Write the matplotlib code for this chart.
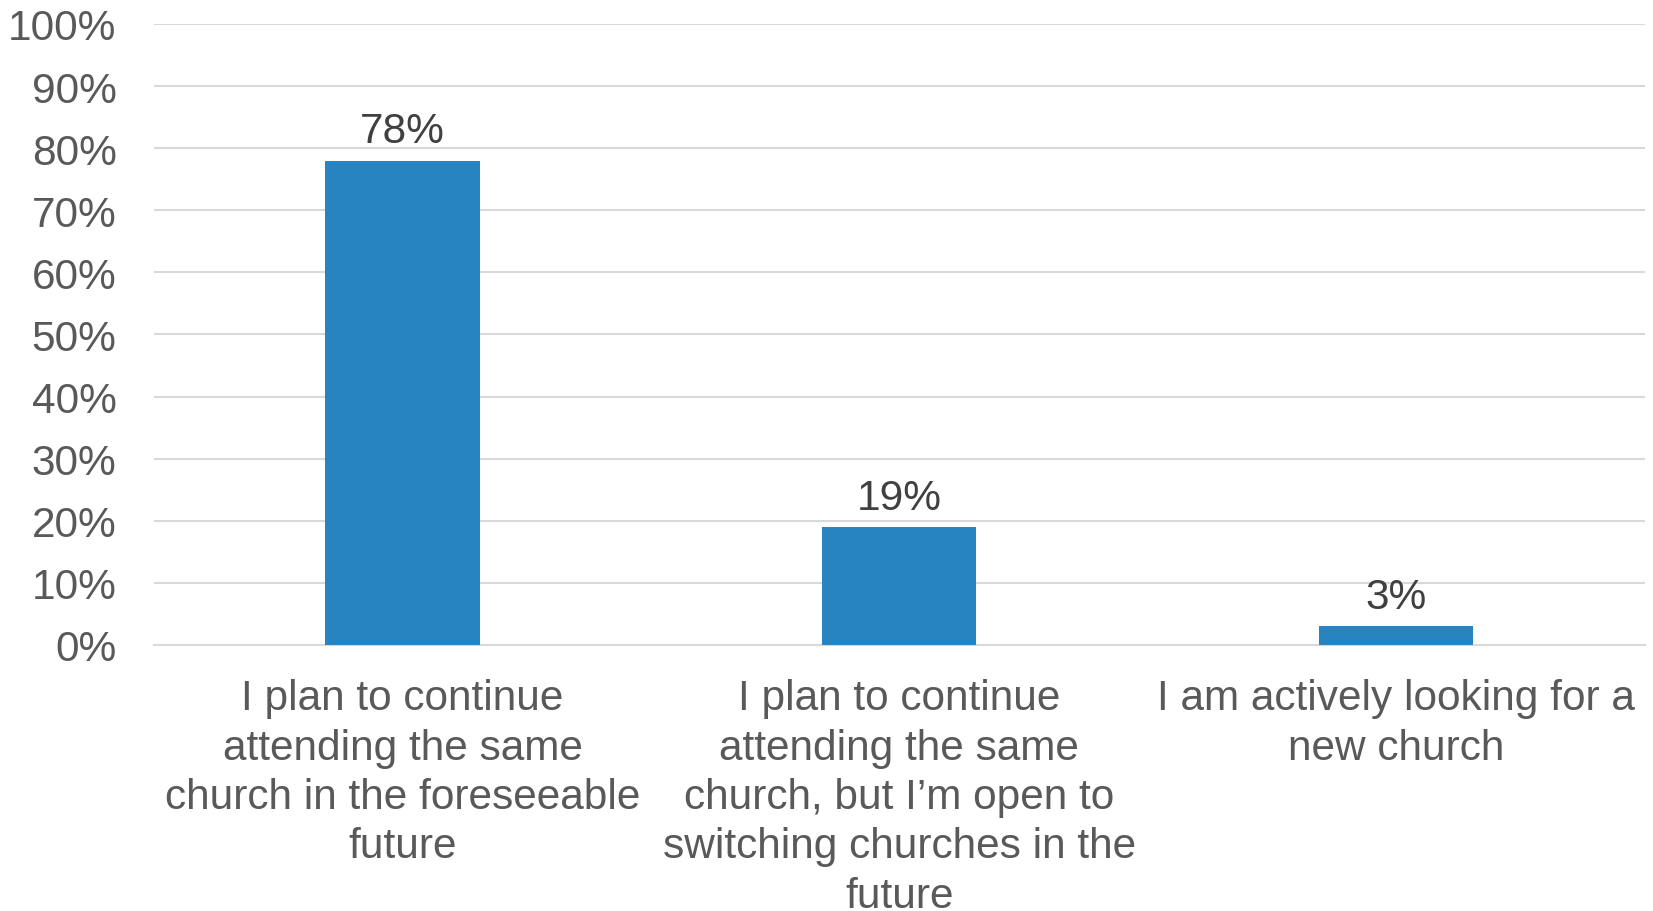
import numpy as np
import matplotlib.pyplot as plt

plt.rcParams['font.family'] = ['Liberation Sans', 'DejaVu Sans']

categories = [
    "I plan to continue\nattending the same\nchurch in the foreseeable\nfuture",
    "I plan to continue\nattending the same\nchurch, but I\u2019m open to\nswitching churches in the\nfuture",
    "I am actively looking for a\nnew church",
]
values = [78, 19, 3]
yticks = [0, 10, 20, 30, 40, 50, 60, 70, 80, 90, 100]

text_col = '#595959'
bar_col = '#2784c0'
grid_col = '#d9d9d9'

fig = plt.figure(figsize=(16.53, 9.12), dpi=100)
ax = fig.add_axes([0.0932, 0.2917, 0.9018, 0.6809])

x = np.arange(len(categories))
bars = ax.bar(x, values, width=0.31, color=bar_col, zorder=3)

for xi, v in zip(x, values):
    ax.text(xi, v + 1.5, f"{v}%", ha='center', va='bottom', fontsize=30.5, color='#404040')

ax.set_xlim(-0.5, 2.5)
ax.set_ylim(0, 100)
ax.set_yticks(yticks)
ax.set_yticklabels([f"{t}%" for t in yticks], fontsize=30.5, color=text_col)
ax.set_xticks(x)
ax.set_xticklabels(categories, fontsize=30.5, color=text_col, linespacing=1.3, va='top')
ax.tick_params(axis='both', length=0)
ax.tick_params(axis='y', pad=27)
ax.tick_params(axis='x', pad=24)

ax.grid(axis='y', color=grid_col, linewidth=1.5, zorder=0)
for s in ['top', 'right', 'left']:
    ax.spines[s].set_visible(False)
ax.spines['bottom'].set_color(grid_col)
ax.spines['bottom'].set_linewidth(1.5)

fig.savefig('out.png', dpi=100)
